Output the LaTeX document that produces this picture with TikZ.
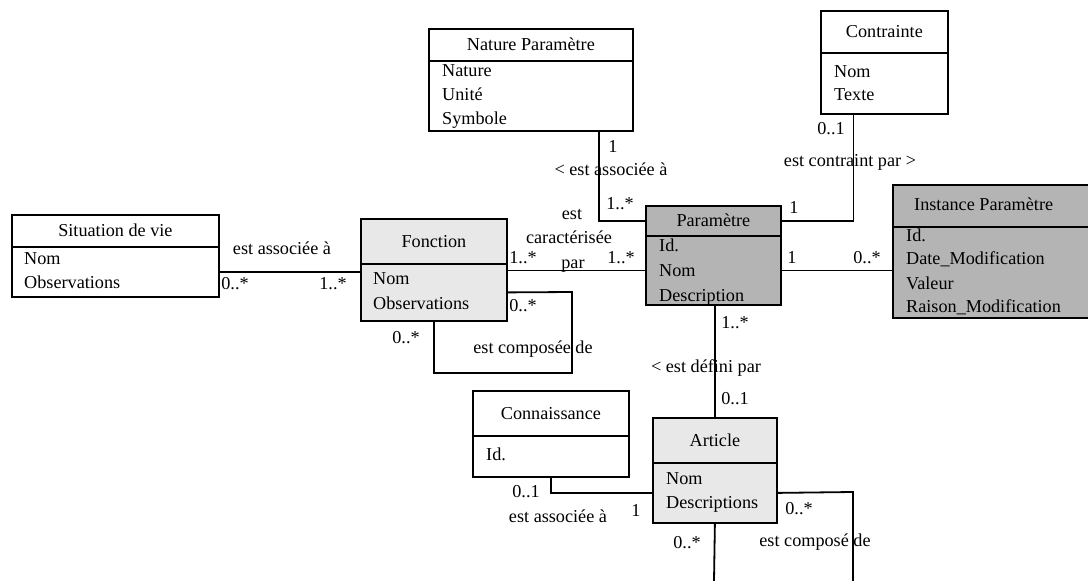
\documentclass[tikz,border=0pt]{standalone}
\usepackage{fontspec}
\setmainfont{Liberation Serif}
\definecolor{lightfill}{HTML}{E8E8E8}
\definecolor{darkfill}{HTML}{B4B4B4}
\begin{document}
\begin{tikzpicture}[x=1pt,y=-1pt,
  every node/.style={font=\fontsize{18.2}{22}\selectfont},
  box/.style={draw, line width=1.8pt, inner sep=0pt, anchor=north west, text height=12pt, text depth=0pt},
  txt/.style={inner sep=0pt, anchor=west, text height=12pt, text depth=0pt},
  lbl/.style={inner sep=0pt, text height=12pt, text depth=0pt},
  conn/.style={line width=1.8pt}]
\useasboundingbox (0,0) rectangle (1088,581);

% Nature Parametre
\node[box, minimum width=204pt, minimum height=32pt] (natH) at (428,28) {Nature Paramètre};
\node[box, minimum width=204pt, minimum height=70pt] (natB) at (428,60) {};
\node[txt] (natF1) at (442,70) {Nature};
\node[txt] (natF2) at (442,94) {Unité};
\node[txt] (natF3) at (442,118) {Symbole};

% Contrainte
\node[box, minimum width=127pt, minimum height=42pt] (conH) at (820,10) {Contrainte};
\node[box, minimum width=127pt, minimum height=61pt] (conB) at (820,52) {};
\node[txt] (conF1) at (834,71) {Nom};
\node[txt] (conF2) at (834,94) {Texte};

% Situation de vie
\node[box, minimum width=207pt, minimum height=32pt] (sitH) at (11,214) {Situation de vie};
\node[box, minimum width=207pt, minimum height=50pt] (sitB) at (11,246) {};
\node[txt] (sitF1) at (24,258) {Nom};
\node[txt] (sitF2) at (24,282) {Observations};

% Fonction
\node[box, fill=lightfill, minimum width=146pt, minimum height=45pt] (fonH) at (360,218) {Fonction};
\node[box, fill=lightfill, minimum width=146pt, minimum height=57pt] (fonB) at (360,263) {};
\node[txt] (fonF1) at (373,278) {Nom};
\node[txt] (fonF2) at (373,303) {Observations};

% Parametre
\node[box, fill=darkfill, minimum width=135pt, minimum height=30pt] (parH) at (645,205) {Paramètre};
\node[box, fill=darkfill, minimum width=135pt, minimum height=69pt] (parB) at (645,235) {};
\node[txt] (parF1) at (659,245) {Id.};
\node[txt] (parF2) at (659,270) {Nom};
\node[txt] (parF3) at (659,295) {Description};

% Instance Parametre
\node[box, fill=darkfill, minimum width=230pt, minimum height=42pt] (insH) at (892,184) {};
\node[box, fill=darkfill, minimum width=230pt, minimum height=91pt] (insB) at (892,226) {};
\node[txt] (insT) at (914,204) {Instance Paramètre};
\node[txt] (insF1) at (906,235) {Id.};
\node[txt] (insF2) at (906,258) {Date\_Modification};
\node[txt] (insF3) at (906,283) {Valeur};
\node[txt] (insF4) at (906,306) {Raison\_Modification};

% Connaissance
\node[box, minimum width=156pt, minimum height=45pt] (knH) at (472,390) {Connaissance};
\node[box, minimum width=156pt, minimum height=41pt] (knB) at (472,435) {};
\node[txt] (knF1) at (486,454) {Id.};

% Article
\node[box, fill=lightfill, minimum width=124pt, minimum height=45pt] (artH) at (652,417) {Article};
\node[box, fill=lightfill, minimum width=124pt, minimum height=60pt] (artB) at (652,462) {};
\node[txt] (artF1) at (666,478) {Nom};
\node[txt] (artF2) at (666,502) {Descriptions};

% helper coordinates
\coordinate (fonLoopA) at (572,292);
\coordinate (fonLoopB) at (572,373);
\coordinate (artLoopA) at (853,492);
\coordinate (artLoopEnd) at (853,581);
\coordinate (artDown) at (714,581);

% connectors
\draw[conn] (sitB.east) -- (sitB.east -| fonB.west);
\draw[conn] (parB.west) -- (parB.west -| fonB.east);
\draw[conn] (fonB.east) -- (fonLoopA) -- (fonLoopB) -| (fonB.south);
\draw[conn] ([xshift=68pt]natB.south) |- (parH.west);
\draw[conn] ([xshift=-31pt]conB.south) |- (parH.east);
\draw[conn] (parB.east) -- (parB.east -| insB.west);
\draw[conn] (artH.north) -- (artH.north |- parB.south);
\draw[conn] (knB.south) |- (artB.west);
\draw[conn] (artB.east) -- (artLoopA) -- (artLoopEnd);
\draw[conn] (artB.south) -- (artDown);

% labels
\node[lbl] (l1) at (282,248) {est associée à};
\node[lbl] (l2) at (235,283) {0..*};
\node[lbl] (l3) at (333,283) {1..*};
\node[lbl] (l4) at (572,213) {est};
\node[lbl] (l5) at (569,237) {caractérisée};
\node[lbl] (l6) at (573,262) {par};
\node[lbl] (l7) at (523,257) {1..*};
\node[lbl] (l8) at (621,257) {1..*};
\node[lbl] (l9) at (523,305) {0..*};
\node[lbl] (l10) at (406,337) {0..*};
\node[lbl] (l11) at (533,347) {est composée de};
\node[lbl] (l12) at (613,146) {1};
\node[lbl] (l13) at (611,169) {< est associée à};
\node[lbl] (l14) at (620,203) {1..*};
\node[lbl] (l15) at (831,128) {0..1};
\node[lbl] (l16) at (850,160) {est contraint par >};
\node[lbl] (l17) at (794,207) {1};
\node[lbl] (l18) at (792,257) {1};
\node[lbl] (l19) at (867,257) {0..*};
\node[lbl] (l20) at (735,322) {1..*};
\node[lbl] (l21) at (706,366) {< est défini par};
\node[lbl] (l22) at (735,398) {0..1};
\node[lbl] (l23) at (526,491) {0..1};
\node[lbl] (l24) at (558,516) {est associée à};
\node[lbl] (l25) at (636,510) {1};
\node[lbl] (l26) at (799,508) {0..*};
\node[lbl] (l27) at (687,542) {0..*};
\node[lbl] (l28) at (815,540) {est composé de};
\end{tikzpicture}
\end{document}
